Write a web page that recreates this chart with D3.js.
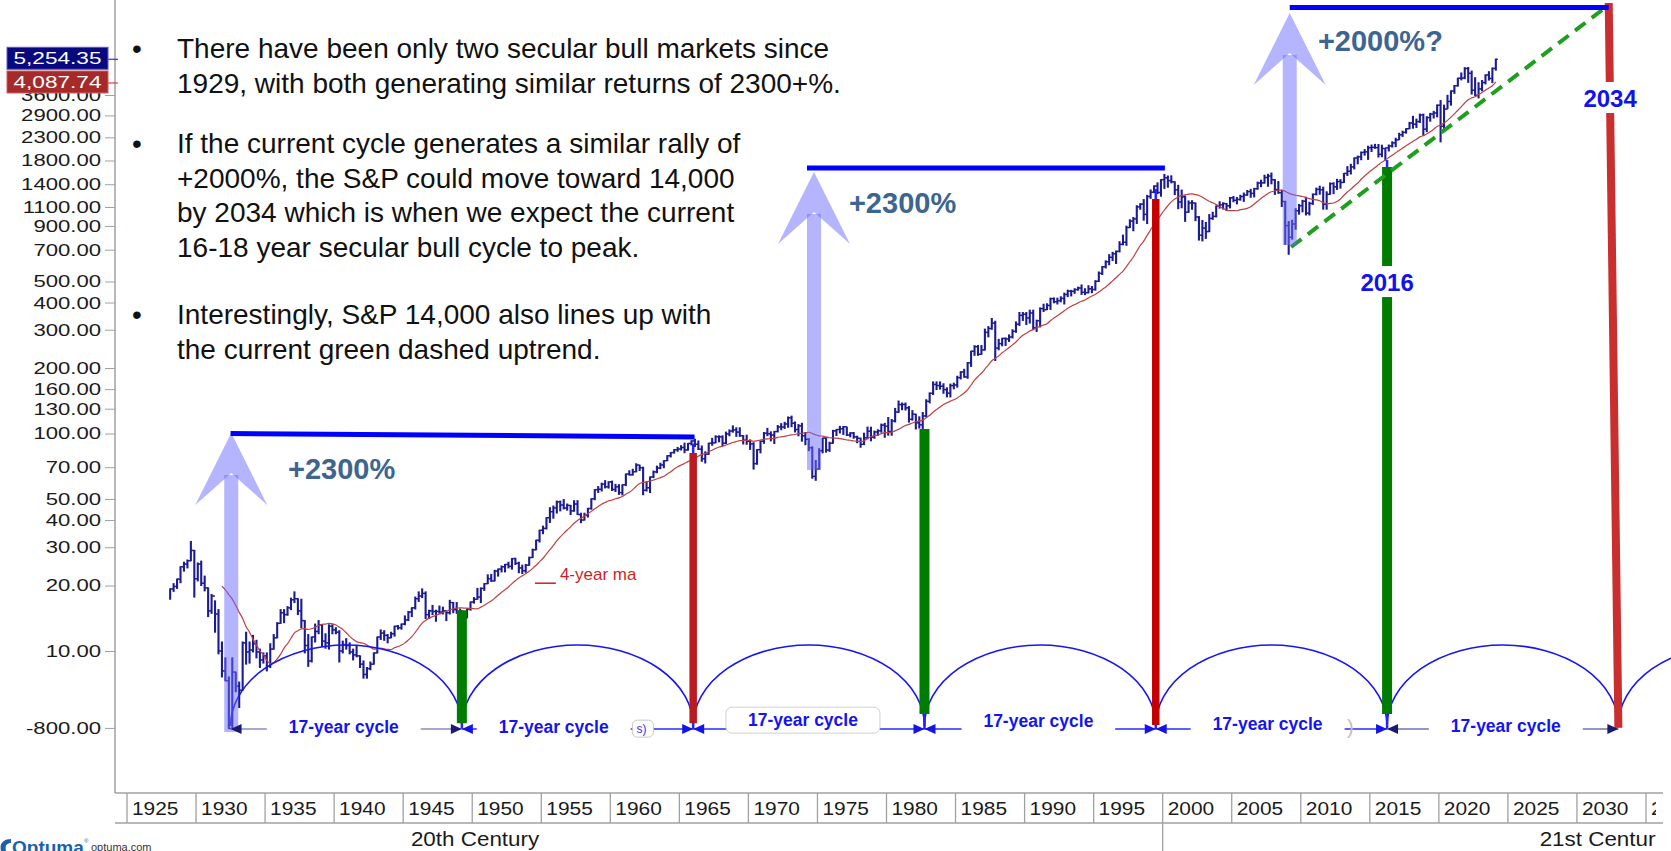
<!DOCTYPE html>
<html>
<head>
<meta charset="utf-8">
<title>S&amp;P 500 secular cycles</title>
<script src="https://cdn.jsdelivr.net/npm/d3@7/dist/d3.min.js"></script>
<style>
  html, body { margin:0; padding:0; background:#fff; overflow:hidden; }
  svg { display:block; font-family:"Liberation Sans", Arial, Helvetica, sans-serif; }
</style>
</head>
<body>
<svg id="chart" width="1671" height="851"></svg>
<script>
// ================= DATA =================
const startYear = 1928; // first bar = 1928 Q1, quarterly bars
const quarterHigh = [
 19.3,20.4,21.4,24.4, 25.6,26.2,31.9,29.0, 25.4,25.9,22.1,19.5, 18.2,17.0,15.5,11.0, // 1928-31
 9.3,7.6,9.3,8.0, 7.2,11.0,12.2,11.0, 11.8,11.2,10.2,9.8, 9.8,10.8,11.9,13.5,         // 1932-35
 15.5,15.5,16.0,17.5, 18.7,17.4,17.3,13.8, 11.9,11.6,13.3,13.8, 13.2,12.0,13.2,13.2,  // 1936-39
 12.8,12.4,11.1,11.4, 10.9,10.2,10.5,9.5, 9.0,8.4,8.9,9.8, 11.6,12.5,12.4,11.9,       // 1940-43
 12.2,13.0,13.1,13.3, 14.5,15.2,15.8,17.7, 18.7,19.3,18.7,15.4, 16.2,15.4,16.1,15.9,  // 1944-47
 15.3,17.1,16.7,16.7, 15.6,15.2,15.6,16.8, 17.6,19.4,19.5,20.4, 22.4,22.5,23.5,23.8,  // 1948-51
 24.6,25.0,25.6,26.6, 26.7,25.6,24.8,25.0, 27.0,29.4,32.3,35.9, 37.5,41.0,45.6,46.4,  // 1952-55
 48.9,48.9,49.7,47.4, 46.7,49.1,49.1,43.0, 43.0,45.3,50.1,55.2, 57.0,59.1,60.7,60.0,  // 1956-59
 60.4,58.4,58.2,58.1, 65.1,67.4,68.5,72.6, 71.5,70.0,59.8,63.1, 67.2,70.8,73.0,75.0,  // 1960-63
 79.1,81.7,84.4,86.3, 87.9,90.3,90.0,92.6, 94.1,92.4,87.6,82.4, 90.2,95.0,97.6,97.6,  // 1964-67
 97.6,101.5,103.9,108.4, 106.2,106.2,97.7,98.3, 93.5,90.7,84.3,92.2, 101.0,105.6,101.8,102.2, // 1968-71
 108.8,111.0,112.6,119.1, 120.2,113.0,109.9,111.4, 101.1,94.7,86.9,75.1, 85.1,95.2,95.6,91.2, // 1972-75
 103.4,104.3,107.8,107.8, 107.0,100.9,101.0,97.2, 95.1,100.3,107.0,106.9, 102.6,104.0,110.5,111.3, // 1976-79
 118.4,116.0,130.4,141.0, 138.1,138.1,133.0,127.4, 122.6,119.3,124.9,143.0, 153.7,172.7,172.7,172.7, // 1980-83
 169.3,162.2,168.7,170.4, 183.4,192.4,197.3,212.0, 238.9,253.4,254.1,254.0, 301.9,310.0,337.9,328.1, // 1984-87
 271,274,275,284, 300,326,360,360, 360,369,369,332, 378,393,395,419,                  // 1988-91
 420,419,425,442, 456,455,463,471, 482,463,478,474, 504,553,586,622,                  // 1992-95
 664,681,690,762, 817,898,961,984, 1115,1139,1190,1244, 1317,1375,1421,1470,          // 1996-99
 1553,1527,1530,1436, 1384,1316,1236,1173, 1176,1147,994,954, 935,1015,1040,1112,     // 2000-03
 1163,1150,1141,1217, 1229,1216,1246,1275, 1310,1326,1340,1431, 1461,1540,1555,1576,  // 2004-07
 1471,1440,1313,1167, 943,956,1080,1130, 1180,1220,1157,1263, 1344,1371,1357,1292,    // 2008-11
 1419,1422,1475,1470, 1570,1687,1729,1849, 1884,1968,2019,2093, 2119,2135,2132,2116,  // 2012-15
 2044,2120,2193,2278, 2401,2454,2520,2695, 2873,2790,2941,2940, 2861,2964,3028,3240,  // 2016-19
 3394,3233,3588,3760, 3983,4302,4546,4808, 4819,4637,4325,4100, 4195,4458,4608,4793,  // 2020-23
 5265                                                                                  // 2024 Q1
];
const quarterLow = [
 17.3,18.8,19.4,20.6, 23.3,24.1,26.0,17.7, 21.0,20.0,18.9,14.4, 14.9,12.2,9.7,7.6,
 7.3,4.4,4.4,6.5, 5.5,6.6,8.7,8.8, 9.9,9.3,8.4,8.8, 8.1,8.4,10.2,11.5,
 13.4,13.5,14.6,15.5, 16.7,14.7,12.8,9.8, 8.5,8.9,11.0,12.0, 10.5,10.3,10.2,12.0,
 12.0,8.9,9.8,10.2, 9.7,9.1,9.4,8.4, 7.5,7.5,8.2,8.7, 9.8,11.3,11.2,10.9,
 11.5,11.7,12.6,12.6, 13.2,13.8,14.4,15.6, 16.9,17.6,14.1,14.1, 14.7,13.7,14.9,14.8,
 13.8,14.8,15.0,14.9, 14.5,13.6,14.2,15.4, 16.6,17.3,16.7,19.0, 20.4,20.9,21.0,22.1,
 23.1,23.1,24.1,23.8, 25.0,22.9,22.7,23.0, 24.8,26.9,29.2,31.7, 34.6,36.4,39.0,40.8,
 43.1,44.1,45.0,44.4, 42.4,43.9,42.4,38.9, 40.0,41.3,44.9,49.6, 53.6,54.4,56.2,56.1,
 54.7,54.1,52.5,52.2, 57.6,64.4,64.4,66.7, 67.6,52.3,54.4,53.5, 62.7,66.0,68.9,69.6,
 75.0,78.0,81.3,82.8, 84.0,81.6,83.8,88.6, 87.1,84.4,74.5,73.2, 80.3,88.3,90.6,91.6,
 87.7,89.8,97.6,101.4, 97.0,97.1,89.5,89.2, 84.5,68.6,72.2,81.5, 90.2,97.8,92.5,89.9,
 101.7,104.1,105.5,106.8, 107.5,101.6,97.6,92.2, 88.8,83.4,62.3,60.9, 68.6,81.5,82.1,82.8,
 90.2,97.9,100.6,99.0, 97.9,96.6,95.1,90.7, 86.5,88.9,94.6,92.5, 95.1,98.1,101.4,96.1,
 98.2,98.2,113.0,124.9, 128.6,128.2,112.8,115.2, 104.9,105.9,102.4,119.2, 138.3,151.1,159.2,160.0,
 153.1,147.3,147.3,160.5, 163.4,178.2,181.3,179.4, 203.5,228.8,228.7,231.3, 242.2,278.2,301.4,216.5,
 242.6,253,254,265, 275,292,314,331, 317,322,300,294.5, 309,364,371,372,
 399,394,403,394, 426,429,441,456, 436,435,443,444, 456,500,538,577,
 597,624,605,684, 737,733,885,855, 924,1074,957,923, 1205,1281,1268,1233,
 1339,1356,1420,1254, 1081,1091,945,1040, 1074,952,775,768, 789,847,965,990,
 1087,1076,1060,1090, 1163,1137,1183,1168, 1245,1219,1224,1327, 1364,1416,1370,1406,
 1257,1272,1106,741, 667,783,869,1020, 1045,1011,1011,1131, 1250,1259,1075,1075,
 1259,1267,1325,1343, 1426,1536,1560,1646, 1738,1814,1904,1821, 1981,2048,1867,1872,
 1810,1991,2074,2084, 2245,2322,2405,2520, 2533,2553,2691,2347, 2444,2729,2822,2856,
 2192,2447,3115,3234, 3662,3954,4224,4279, 4115,3637,3584,3492, 3765,4048,4216,4104,
 4683
];
const quarterClose = [
 19.3,19.8,21.4,24.4, 25.1,26.0,29.0,21.5, 25.1,20.5,19.5,15.3, 17.9,14.8,10.0,8.1,
 7.3,4.4,8.0,6.9, 6.6,10.9,9.9,10.1, 10.8,9.9,9.1,9.5, 8.5,10.2,11.5,13.4,
 15.0,14.7,15.8,17.2, 17.4,15.3,13.8,10.6, 9.0,11.6,12.3,13.2, 11.1,10.9,13.0,12.5,
 12.2,10.0,10.7,10.6, 9.9,9.6,9.5,8.7, 7.8,8.3,8.7,9.8, 11.6,12.1,11.8,11.5,
 12.0,13.0,12.8,13.3, 13.9,15.1,15.8,17.4, 17.9,18.4,14.7,15.3, 15.2,15.2,15.1,15.3,
 15.0,16.7,15.5,15.2, 15.1,14.2,15.6,16.8, 17.3,17.7,19.4,20.4, 21.5,21.0,23.3,23.8,
 24.4,25.0,24.5,26.6, 25.3,24.1,23.4,24.8, 26.9,29.2,32.3,35.9, 36.6,41.0,43.7,45.5,
 48.5,46.9,45.4,46.7, 44.1,47.4,42.4,40.0, 42.1,45.2,50.1,55.2, 55.4,58.5,56.9,59.9,
 55.3,56.9,53.5,58.1, 65.1,64.6,66.7,71.6, 69.6,54.8,56.3,63.1, 66.6,69.4,71.7,75.0,
 79.0,81.7,84.2,84.8, 86.2,84.1,90.0,92.4, 89.2,84.7,76.6,80.3, 90.2,90.6,96.7,96.5,
 90.2,99.6,102.7,103.9, 101.5,97.7,93.1,92.1, 89.6,72.7,84.3,92.2, 100.3,99.7,98.3,102.1,
 107.2,107.1,110.6,118.1, 111.5,104.3,108.4,97.6, 94.0,86.0,63.5,68.6, 83.4,95.2,83.9,90.2,
 102.8,104.3,105.2,107.5, 98.4,100.5,96.5,95.1, 89.2,95.5,102.5,96.1, 101.6,102.9,109.3,107.9,
 102.1,114.2,125.5,135.8, 136.0,131.2,116.2,122.6, 112.0,109.6,120.4,140.6, 153.0,168.1,166.1,164.9,
 159.2,153.2,166.1,167.2, 180.7,191.9,182.1,211.3, 238.9,250.8,231.3,242.2, 291.7,304.0,321.8,247.1,
 258.9,273.5,271.9,277.7, 294.9,318.0,349.2,353.4, 339.9,358.0,306.1,330.2, 375.2,371.2,387.9,417.1,
 403.7,408.1,417.8,435.7, 451.7,450.5,458.9,466.5, 445.8,444.3,462.7,459.3, 500.7,544.8,584.4,615.9,
 645.5,670.6,687.3,740.7, 757.1,885.1,947.3,970.4, 1101.8,1133.8,1017.0,1229.2, 1286.4,1372.7,1282.7,1469.3,
 1498.6,1454.6,1436.5,1320.3, 1160.3,1224.4,1040.9,1148.1, 1147.4,989.8,815.3,879.8, 848.2,974.5,996.0,1111.9,
 1126.2,1140.8,1114.6,1211.9, 1180.6,1191.3,1228.8,1248.3, 1294.8,1270.2,1335.8,1418.3, 1420.9,1503.4,1526.8,1468.4,
 1322.7,1280.0,1166.4,903.3, 797.9,919.3,1057.1,1115.1, 1169.4,1030.7,1141.2,1257.6, 1325.8,1320.6,1131.4,1257.6,
 1408.5,1362.2,1440.7,1426.2, 1569.2,1606.3,1681.6,1848.4, 1872.3,1960.2,1972.3,2058.9, 2067.9,2063.1,1920.0,2043.9,
 2059.7,2098.9,2168.3,2238.8, 2362.7,2423.4,2519.4,2673.6, 2640.9,2718.4,2914.0,2506.9, 2834.4,2941.8,2976.7,3230.8,
 2584.6,3100.3,3363.0,3756.1, 3972.9,4297.5,4307.5,4766.2, 4530.4,3785.4,3585.6,3839.5, 4109.3,4450.4,4288.1,4769.8,
 5254.35
];
const maPeriodQuarters = 16; // 4-year moving average

// axes
const yTickValues = [4.43, 10, 20, 30, 40, 50, 70, 100, 130, 160, 200, 300, 400, 500, 700, 900, 1100, 1400, 1800, 2300, 2900, 3600];
const yTickLabels = ["-800.00","10.00","20.00","30.00","40.00","50.00","70.00","100.00","130.00","160.00","200.00","300.00","400.00","500.00","700.00","900.00","1100.00","1400.00","1800.00","2300.00","2900.00","3600.00"];
const xTickYears = [1925,1930,1935,1940,1945,1950,1955,1960,1965,1970,1975,1980,1985,1990,1995,2000,2005,2010,2015,2020,2025,2030,2035];
const centuryBreakYears = [2000];
const centuryLabels = ["20th Century", "21st Century"];
const centuryLabelYears = [1945.56, 2027.3];
const flagValues = [5254.35, 4087.74];
const flagLabels = ["5,254.35", "4,087.74"];

// cycles
const cycleYears = [1932.5, 1949.25, 1966.0, 1982.75, 1999.5, 2016.25, 2033.0];
const cycleLabel = "17-year cycle";
const cycleLabelYears = [1940.7, 1955.9, 1973.95, 1991.0, 2007.6, 2024.85];
const cycleLabelValues = [4.47, 4.47, 4.81, 4.76, 4.62, 4.52];
const cycleArcBase = 4.52, cycleArcTop = 10.66, cycleArrowValue = 4.38;

// cycle markers (green = low, red = peak)
const markerYears   = [1949.25, 1966.0, 1982.75, 1999.5, 2016.25];
const markerTops    = [15.4, 81.3, 105, 1197, 1680];
const markerBottoms = [4.66, 4.66, 5.13, 4.57, 5.13];
const markerKinds   = ["low", "peak", "low", "peak", "low"];
const stubTops      = [15.4, 90, 105, 1330, 1810];
const projYears     = [2032.3, 2033.0];   // projected 2034 peak line (top, bottom)
const projValues    = [9530, 4.43];
const yearLabels     = ["2016", "2034"];
const yearLabelYears = [2016.25, 2032.4];
const yearLabelValues= [497, 3487];

// rally arrows and targets
const arrowYears   = [1932.55, 1974.75, 2009.2];
const arrowBottoms = [4.24, 67.9, 736];
const arrowApexes  = [100.5, 1594, 8570];
const targetStartYears  = [1932.5, 1974.24, 2009.2];
const targetEndYears    = [1966.1, 2000.16, 2032.3];
const targetStartValues = [100, 1663, 9090];
const targetEndValues   = [96.4, 1663, 9090];
const gainLabels = ["+2300%", "+2300%", "+2000%?"];
const gainYears  = [1936.66, 1977.28, 2011.24];
const gainValues = [68.7, 1153, 6378];

// uptrend
const trendYears  = [2009.3, 2032.2];
const trendValues = [720, 9237];

// MA legend
const maLegendText = "4-year ma";
const maLegendYears = [1954.54, 1956.06, 1956.35];
const maLegendValues = [20.5, 22.6];

// commentary
const bulletBlocks = [
  ["There have been only two secular bull markets since", "1929, with both generating similar returns of 2300+%."],
  ["If the current cycle generates a similar rally of", "+2000%, the S&P could move toward 14,000", "by 2034 which is when we expect the current", "16-18 year secular bull cycle to peak."],
  ["Interestingly, S&P 14,000 also lines up with", "the current green dashed uptrend."]
];

// ================= SCALES =================
const x = d3.scaleLinear().domain([1925, 2035]).range([127, 1646]);
const y = d3.scaleLog().domain([10, 1000]).range([651, 216]);

const svg = d3.select("#chart");
svg.append("rect").attr("width", 1671).attr("height", 851).attr("fill", "#fff");
const defs = svg.append("defs");
defs.append("clipPath").attr("id", "plotClip").append("rect").attr("x", 116).attr("y", 0).attr("width", 1555).attr("height", 793);
defs.append("clipPath").attr("id", "xLineClip").append("rect").attr("x", 115).attr("y", 780).attr("width", 1548).attr("height", 71);
defs.append("clipPath").attr("id", "xTextClip").append("rect").attr("x", 115).attr("y", 780).attr("width", 1541).attr("height", 71);

function stretch(sel, f) {
  sel.each(function () {
    const w = this.getComputedTextLength();
    this.setAttribute("textLength", (w * f).toFixed(1));
    this.setAttribute("lengthAdjust", "spacingAndGlyphs");
  });
}

const plot = svg.append("g").attr("clip-path", "url(#plotClip)");

// ---------- price bars ----------
const bars = quarterHigh.map((h, i) => ({
  t: startYear + i * 0.25 + 0.125, h, l: quarterLow[i], c: quarterClose[i],
  o: i > 0 ? quarterClose[i - 1] : null
}));
const barG = plot.append("g").attr("stroke", "#1c1c8e");
barG.selectAll("line.hl").data(bars).join("line").attr("class", "hl")
  .attr("x1", d => x(d.t)).attr("x2", d => x(d.t))
  .attr("y1", d => y(d.l) + 0.5).attr("y2", d => y(d.h) - 0.5).attr("stroke-width", 2.1);
barG.selectAll("line.cl").data(bars).join("line").attr("class", "cl")
  .attr("x1", d => x(d.t)).attr("x2", d => x(d.t) + 2)
  .attr("y1", d => y(d.c)).attr("y2", d => y(d.c)).attr("stroke-width", 1.4);
barG.selectAll("line.op").data(bars.filter(d => d.o !== null)).join("line").attr("class", "op")
  .attr("x1", d => x(d.t) - 2).attr("x2", d => x(d.t))
  .attr("y1", d => y(d.o)).attr("y2", d => y(d.o)).attr("stroke-width", 1.4);

// ---------- moving average ----------
const maPts = [];
for (let i = maPeriodQuarters - 1; i < quarterClose.length; i++) {
  maPts.push({ t: startYear + i * 0.25 + 0.125, v: d3.mean(quarterClose.slice(i - maPeriodQuarters + 1, i + 1)) });
}
plot.append("path").datum(maPts)
  .attr("d", d3.line().x(d => x(d.t)).y(d => y(d.v)).curve(d3.curveMonotoneX))
  .attr("fill", "none").attr("stroke", "#bf4040").attr("stroke-width", 1.2);

// MA legend
plot.append("line").attr("x1", x(maLegendYears[0])).attr("x2", x(maLegendYears[1]))
  .attr("y1", y(maLegendValues[0])).attr("y2", y(maLegendValues[0]))
  .attr("stroke", "#cc2020").attr("stroke-width", 1.5);
plot.append("text").attr("x", x(maLegendYears[2])).attr("y", y(maLegendValues[1])).attr("dy", "0.35em")
  .attr("font-size", 17).attr("fill", "#cc1f1f").text(maLegendText);

// ---------- cycle arcs ----------
const yArcB = y(cycleArcBase), ry = y(cycleArcBase) - y(cycleArcTop);
cycleYears.forEach((cy, i) => {
  const x1 = x(cy);
  const x2 = i + 1 < cycleYears.length ? x(cycleYears[i + 1]) : x1 + (x1 - x(cycleYears[i - 1]));
  const rx = (x2 - x1) / 2;
  plot.append("path")
    .attr("d", `M${x1},${yArcB} A${rx},${ry} 0 0 1 ${x2},${yArcB}`)
    .attr("fill", "none").attr("stroke", "#1515f5").attr("stroke-width", 1.6);
});

// ---------- stubs and cycle markers ----------
const yArrow = y(cycleArrowValue);
markerYears.forEach((my, i) => {
  plot.append("line").attr("x1", x(my)).attr("x2", x(my))
    .attr("y1", y(stubTops[i])).attr("y2", yArrow)
    .attr("stroke", "#2424ff").attr("stroke-width", 2.5);
});
const markerColor = { low: "#007d00", peak: "#bb1a1f" };
const markerWidth = { low: 10, peak: 7.5 };
markerYears.forEach((my, i) => {
  plot.append("line").attr("x1", x(my)).attr("x2", x(my))
    .attr("y1", y(markerTops[i])).attr("y2", y(markerBottoms[i]))
    .attr("stroke", i === 3 ? "#c40000" : markerColor[markerKinds[i]])
    .attr("stroke-width", markerWidth[markerKinds[i]]);
});
// projected 2034 line
plot.append("line").attr("x1", x(projYears[0])).attr("y1", y(projValues[0]))
  .attr("x2", x(projYears[1])).attr("y2", y(projValues[1]))
  .attr("stroke", "#c92f2f").attr("stroke-width", 8);

// year labels on markers (white backing breaks the bars)
yearLabels.forEach((lab, i) => {
  const cx = x(yearLabelYears[i]), cyy = y(yearLabelValues[i]);
  plot.append("rect").attr("x", cx - 30).attr("y", cyy - 16).attr("width", 60).attr("height", 31).attr("fill", "#fff");
  plot.append("text").attr("x", cx).attr("y", cyy).attr("dy", "0.36em").attr("text-anchor", "middle")
    .attr("font-size", 24).attr("font-weight", "bold").attr("fill", "#1212ee").text(lab);
});

// ---------- uptrend ----------
plot.append("line").attr("x1", x(trendYears[0])).attr("y1", y(trendValues[0]))
  .attr("x2", x(trendYears[1])).attr("y2", y(trendValues[1]))
  .attr("stroke", "#1f9e1f").attr("stroke-width", 4).attr("stroke-dasharray", "13 8");

// ---------- rally arrows ----------
arrowYears.forEach((ay, i) => {
  const cx = x(ay), yA = y(arrowApexes[i]), yB = y(arrowBottoms[i]);
  const g = plot.append("g").attr("fill", "#6a6aff").attr("fill-opacity", 0.5);
  g.append("rect").attr("x", cx - 7).attr("y", yA + 42).attr("width", 14).attr("height", yB - yA - 42);
  g.append("path").attr("d", `M${cx},${yA} L${cx + 36},${yA + 72} L${cx},${yA + 40} L${cx - 36},${yA + 72} Z`);
});

// ---------- target lines ----------
targetStartYears.forEach((sy, i) => {
  plot.append("line").attr("x1", x(sy)).attr("y1", y(targetStartValues[i]))
    .attr("x2", x(targetEndYears[i])).attr("y2", y(targetEndValues[i]))
    .attr("stroke", "#0000ff").attr("stroke-width", 5);
});
gainLabels.forEach((lab, i) => {
  plot.append("text").attr("x", x(gainYears[i])).attr("y", y(gainValues[i])).attr("dy", "0.36em")
    .attr("font-size", 29).attr("font-weight", "bold").attr("fill", "#3e6591").text(lab);
});

// ---------- cycle dimension arrows ----------
const dimLine = ["#8a8ac6", "#2a2aff", "#2a2aff", "#2a2aff", "#2a2aff", "#7070b4"];
const dimHead = ["#1a1a70", "#1414e6", "#1414e6", "#1414e6", "#1414e6", "#1a1a70"];
for (let i = 0; i < cycleYears.length - 1; i++) {
  const xa = x(cycleYears[i]), xb2 = x(cycleYears[i + 1]);
  plot.append("line").attr("x1", xa).attr("x2", xb2).attr("y1", yArrow).attr("y2", yArrow)
    .attr("stroke", dimLine[i]).attr("stroke-width", 1.6);
  plot.append("path").attr("d", `M${xa},${yArrow} L${xa + 11},${yArrow - 5} L${xa + 11},${yArrow + 5} Z`).attr("fill", dimHead[i]);
  plot.append("path").attr("d", `M${xb2},${yArrow} L${xb2 - 11},${yArrow - 5} L${xb2 - 11},${yArrow + 5} Z`).attr("fill", dimHead[i]);
}
// artifacts of the original labels
plot.append("rect").attr("x", x(1961.6)).attr("y", y(4.81) ).attr("width", 21).attr("height", 17).attr("rx", 5)
  .attr("fill", "#fff").attr("stroke", "#c8c8c8");
plot.append("text").attr("x", x(1961.6) + 4).attr("y", y(4.81) + 13).attr("font-size", 12).attr("fill", "#3333ee").text("s)");
cycleLabelYears.forEach((ly, i) => {
  const cx = x(ly), cyy = y(cycleLabelValues[i]);
  plot.append("rect").attr("x", cx - 77).attr("y", cyy - 13).attr("width", 154).attr("height", 26).attr("rx", 6)
    .attr("fill", "#fff").attr("stroke", i === 2 ? "#d0d0d0" : "none");
  plot.append("text").attr("x", cx).attr("y", cyy).attr("dy", "0.35em").attr("text-anchor", "middle")
    .attr("font-size", 17.5).attr("font-weight", "bold").attr("fill", "#1414f0").text(cycleLabel);
});
plot.append("text").attr("x", x(2013.35)).attr("y", y(4.47)).attr("dy", "0.35em")
  .attr("font-size", 20).attr("fill", "#c0c0c0").text(")");

// ---------- Y axis ----------
const yAxisG = svg.append("g").attr("transform", "translate(115,0)")
  .call(d3.axisLeft(y).tickValues(yTickValues).tickFormat((d, i) => yTickLabels[i]).tickSize(10).tickPadding(4));
yAxisG.attr("font-size", 17).attr("font-family", "Liberation Sans, Arial, sans-serif");
yAxisG.select(".domain").remove();
yAxisG.selectAll(".tick line").attr("stroke", "#a0a0a0");
yAxisG.selectAll(".tick text").attr("fill", "#1a1a1a");
stretch(yAxisG.selectAll(".tick text"), 1.3);
svg.append("line").attr("x1", 115).attr("x2", 115).attr("y1", 0).attr("y2", 793).attr("stroke", "#a0a0a0").attr("stroke-width", 1.5);

// flags
const flagFill = ["#08087f", "#a62a2a"];
const flagTick = ["#3030ff", "#d04040"];
flagValues.forEach((v, i) => {
  const cyy = y(v) - 1;
  svg.append("line").attr("x1", 106).attr("x2", 118).attr("y1", y(v)).attr("y2", y(v)).attr("stroke", flagTick[i]).attr("stroke-width", 1.2);
  svg.append("rect").attr("x", 7).attr("y", cyy - 11).attr("width", 101).attr("height", 22)
    .attr("fill", flagFill[i]).attr("stroke", i === 0 ? "#5a5ad0" : "#c86060").attr("stroke-width", 1);
  const t = svg.append("text").attr("x", 57.5).attr("y", cyy).attr("dy", "0.35em").attr("text-anchor", "middle")
    .attr("font-size", 17).attr("fill", "#fff").text(flagLabels[i]);
  stretch(t, 1.33);
});

// ---------- X axis ----------
const xl = svg.append("g").attr("clip-path", "url(#xLineClip)").attr("stroke", "#a0a0a0").attr("stroke-width", 1.3);
xl.append("line").attr("x1", 115).attr("x2", 1671).attr("y1", 793).attr("y2", 793);
xl.append("line").attr("x1", 115).attr("x2", 1671).attr("y1", 823).attr("y2", 823);
xl.selectAll("line.sep").data(xTickYears).join("line").attr("class", "sep")
  .attr("x1", d => x(d)).attr("x2", d => x(d)).attr("y1", 793).attr("y2", 823);
xl.selectAll("line.cen").data(centuryBreakYears).join("line").attr("class", "cen")
  .attr("x1", d => x(d)).attr("x2", d => x(d)).attr("y1", 823).attr("y2", 851);
const xt = svg.append("g").attr("clip-path", "url(#xTextClip)");
xt.selectAll("text.yr").data(xTickYears).join("text").attr("class", "yr")
  .attr("x", d => x(d) + 5).attr("y", 815).attr("font-size", 19).attr("fill", "#1a1a1a").text(d => String(d));
stretch(xt.selectAll("text.yr"), 1.1);
xt.selectAll("text.cen").data(centuryLabels).join("text").attr("class", "cen")
  .attr("x", (d, i) => x(centuryLabelYears[i])).attr("y", 846).attr("font-size", 20).attr("fill", "#1a1a1a").text(d => d);
stretch(xt.selectAll("text.cen"), 1.12);

// ---------- commentary ----------
const bulletBase = [58, 153, 324];
bulletBlocks.forEach((lines, b) => {
  svg.append("text").attr("x", 137).attr("y", bulletBase[b]).attr("text-anchor", "middle")
    .attr("font-size", 28).attr("fill", "#111").text("\u2022");
  lines.forEach((ln, j) => {
    svg.append("text").attr("x", 177).attr("y", bulletBase[b] + j * 34.5)
      .attr("font-size", 28).attr("fill", "#111").text(ln);
  });
});

// ---------- logo ----------
const logo = svg.append("g");
logo.append("path").attr("d", "M1,851 C-1,843 4,839 11,839 L11,843 C6,843 5,847 6,851 Z").attr("fill", "#1b5fad");
logo.append("text").attr("x", 12).attr("y", 854).attr("font-size", 19).attr("font-weight", "bold").attr("fill", "#1b5fad").text("Optuma");
logo.append("text").attr("x", 84).attr("y", 843).attr("font-size", 6).attr("fill", "#1b5fad").text("\u00AE");
logo.append("text").attr("x", 91).attr("y", 851).attr("font-size", 11).attr("fill", "#333").text("optuma.com");
</script>
</body>
</html>
